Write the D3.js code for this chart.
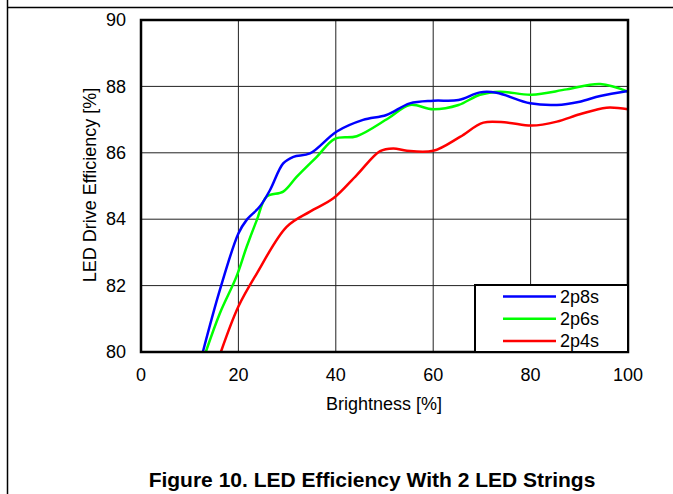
<!DOCTYPE html>
<html>
<head>
<meta charset="utf-8">
<script src="https://cdn.jsdelivr.net/npm/d3@7"></script>
<style>
  body { margin: 0; background: #fff; }
  svg { font-family: "Liberation Sans", Arial, sans-serif; }
</style>
</head>
<body>
<svg width="673" height="494"></svg>
<script>
// brightness [%] / efficiency [%]
const blueX  = [12.7, 16.2, 20, 21.7, 24.4, 26.5, 29.2, 31.3, 34.7, 40.2, 45.6, 50.4, 55.2, 60, 65.2, 69.6, 73, 79.9, 85.4, 90.1, 94.3, 100];
const blueY  = [80, 81.87, 83.57, 83.98, 84.38, 84.88, 85.68, 85.88, 85.98, 86.64, 86.99, 87.14, 87.49, 87.57, 87.59, 87.82, 87.81, 87.49, 87.44, 87.54, 87.71, 87.86];
const greenX = [13.3, 16.2, 19.6, 21.7, 23.8, 25.8, 29.2, 32, 36.1, 39.8, 44.3, 50.8, 55.2, 60, 65.2, 69.6, 73.7, 80.2, 87.4, 94.3, 100];
const greenY = [80, 81.17, 82.27, 83.17, 83.98, 84.68, 84.83, 85.28, 85.88, 86.42, 86.5, 87.04, 87.44, 87.31, 87.44, 87.75, 87.84, 87.75, 87.91, 88.07, 87.84];
const redX   = [16.4, 20, 23.8, 29.9, 34.7, 39.5, 44.3, 49.1, 51.8, 54.6, 60, 65.5, 70.3, 75.1, 80.2, 85.4, 90.1, 95.6, 100];
const redY   = [80, 81.37, 82.37, 83.77, 84.23, 84.63, 85.33, 86.05, 86.13, 86.06, 86.06, 86.48, 86.91, 86.91, 86.82, 86.94, 87.16, 87.36, 87.31];
const seriesNames = ["2p8s", "2p6s", "2p4s"];
const xTicks = [0, 20, 40, 60, 80, 100];
const yTicks = [80, 82, 84, 86, 88, 90];

const svg = d3.select("svg");

// page frame lines
svg.append("line").attr("x1", 7.5).attr("x2", 7.5).attr("y1", 0).attr("y2", 494)
  .attr("stroke", "#000").attr("stroke-width", 1.5);
svg.append("line").attr("x1", 7).attr("x2", 673).attr("y1", 7.5).attr("y2", 7.5)
  .attr("stroke", "#000").attr("stroke-width", 1.5);

const x = d3.scaleLinear().domain([0, 100]).range([141, 628]);
const y = d3.scaleLinear().domain([80, 90]).range([352, 20]);

// grid
svg.append("g").selectAll("line").data(xTicks.slice(1, -1)).join("line")
  .attr("x1", d => x(d)).attr("x2", d => x(d)).attr("y1", y(90)).attr("y2", y(80))
  .attr("stroke", "#222").attr("stroke-width", 1);
svg.append("g").selectAll("line").data(yTicks.slice(1, -1)).join("line")
  .attr("x1", x(0)).attr("x2", x(100)).attr("y1", d => y(d)).attr("y2", d => y(d))
  .attr("stroke", "#222").attr("stroke-width", 1);

// tick labels
svg.append("g").selectAll("text").data(yTicks).join("text")
  .attr("x", 126).attr("y", d => y(d)).attr("dy", "0.34em")
  .attr("text-anchor", "end").attr("font-size", 18).text(d => d);
svg.append("g").selectAll("text").data(xTicks).join("text")
  .attr("x", d => x(d)).attr("y", 381)
  .attr("text-anchor", "middle").attr("font-size", 18).text(d => d);

svg.append("text").attr("x", 384).attr("y", 410).attr("text-anchor", "middle")
  .attr("font-size", 18).text("Brightness [%]");
svg.append("text").attr("transform", "translate(96,185) rotate(-90)")
  .attr("text-anchor", "middle").attr("font-size", 18).text("LED Drive Efficiency [%]");

// curves
const line = d3.line().x(d => x(d[0])).y(d => y(d[1])).curve(d3.curveCatmullRom.alpha(0.5));
const series = [
  { name: seriesNames[0], color: "#0000ff", pts: d3.zip(blueX, blueY) },
  { name: seriesNames[1], color: "#00ff00", pts: d3.zip(greenX, greenY) },
  { name: seriesNames[2], color: "#ff0000", pts: d3.zip(redX, redY) }
];
svg.append("g").selectAll("path").data(series.slice().reverse()).join("path")
  .attr("d", d => line(d.pts)).attr("fill", "none")
  .attr("stroke", d => d.color).attr("stroke-width", 2.5);

// plot frame
svg.append("rect").attr("x", x(0)).attr("y", y(90))
  .attr("width", x(100) - x(0)).attr("height", y(80) - y(90))
  .attr("fill", "none").attr("stroke", "#000").attr("stroke-width", 2.5);

// legend
const lg = svg.append("g");
lg.append("rect").attr("x", 475).attr("y", 285).attr("width", 153).attr("height", 67)
  .attr("fill", "#fff").attr("stroke", "#000").attr("stroke-width", 2);
series.forEach((s, i) => {
  const ly = 296.5 + i * 22.3;
  lg.append("line").attr("x1", 503).attr("x2", 556).attr("y1", ly).attr("y2", ly)
    .attr("stroke", s.color).attr("stroke-width", 2.5);
  lg.append("text").attr("x", 560).attr("y", ly).attr("dy", "0.35em")
    .attr("font-size", 18).text(s.name);
});

svg.append("text").attr("x", 372).attr("y", 487).attr("text-anchor", "middle")
  .attr("font-size", 21).attr("font-weight", "bold")
  .text("Figure 10. LED Efficiency With 2 LED Strings");
</script>
</body>
</html>
